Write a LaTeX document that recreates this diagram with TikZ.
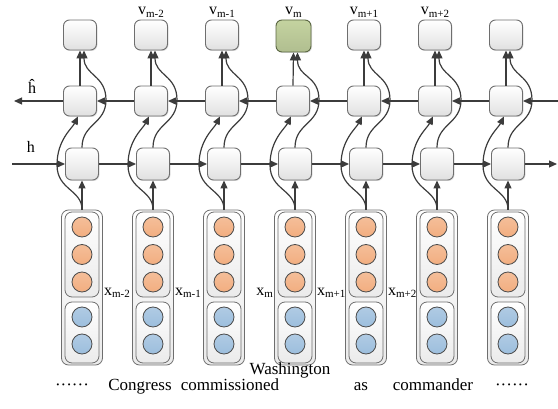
\documentclass[tikz,border=0pt]{standalone}
\usepackage{fontspec}
\setmainfont{Liberation Serif}
\usetikzlibrary{positioning,arrows.meta,shadows,calc}

\definecolor{boxline}{HTML}{6E6E6E}
\definecolor{arrowcol}{HTML}{3C3C3C}
\definecolor{greenfill}{HTML}{C4D3A0}
\definecolor{greenline}{HTML}{5A6642}
\definecolor{orangefill}{HTML}{F2AE80}
\definecolor{bluefill}{HTML}{9CBEDD}
\newcommand\sbs[1]{\raisebox{-0.35ex}{\fontsize{11}{11}\selectfont #1}}

\begin{document}
\begin{tikzpicture}[
  x=1pt, y=-1pt,
  font=\fontsize{16}{18}\selectfont,
  cell/.style={draw=boxline, line width=0.9pt, rounded corners=6pt, top color=white, bottom color=black!12,
    minimum width=33pt, minimum height=30pt, inner sep=0pt,
    drop shadow={shadow xshift=1pt, shadow yshift=-1pt, opacity=0.25}},
  target/.style={cell, top color=greenfill, bottom color=greenfill!90!black, draw=greenline, minimum width=35pt, minimum height=32pt},
  frame/.style={draw=boxline, line width=0.8pt, rounded corners=7pt, top color=white, bottom color=black!8, inner sep=0pt},
  unit/.style={circle, draw=black!70, line width=0.8pt, minimum size=20pt, inner sep=0pt},
  ctx/.style={unit, top color=orangefill!80, bottom color=orangefill},
  emb/.style={unit, top color=bluefill!80, bottom color=bluefill},
  arr/.style={-{Triangle[length=8pt,width=7pt]}, line width=1.2pt, draw=arrowcol},
  word/.style={font=\fontsize{17}{19}\selectfont, anchor=base, inner sep=1pt},
]
\useasboundingbox (0,0) rectangle (558,409);

% columns
\foreach \i in {0,...,6} {
  \pgfmathsetmacro{\xo}{80+71*\i}
  \pgfmathsetmacro{\xi}{82+71*\i}
  \ifnum\i=3
    \node[target] (out\i) at (\xo+0.5,36) {};
  \else
    \node[cell] (out\i) at (\xo,35) {};
  \fi
  \node[cell] (bwd\i) at (\xo,101) {};
  \node[cell, minimum height=32pt] (fwd\i) at (\xi,164) {};
  % input column
  \node[frame, minimum width=41pt, minimum height=155pt] (inp\i) at (\xi,287.5) {};
  \node[frame, minimum width=34pt, minimum height=85pt] (ctxbox\i) at (\xi,254.5) {};
  \node[frame, minimum width=34pt, minimum height=61pt] (embbox\i) at (\xi,332.5) {};
  \node[ctx] (c\i a) at (\xi,227) {};
  \node[ctx] (c\i b) at (\xi,254.5) {};
  \node[ctx] (c\i c) at (\xi,282) {};
  \node[emb] (e\i a) at (\xi,317) {};
  \node[emb] (e\i b) at (\xi,344) {};
  % connectors
  \draw[arr] (inp\i.north) -- (fwd\i.south);
  \draw[arr] (inp\i.north) .. controls +(0,-20) and +(0,25) .. (\xi-25,165)
             .. controls +(0,-25) and +(-6,12) .. ([xshift=-2pt]bwd\i.south);
  \draw[arr] (fwd\i.north) .. controls +(0,-24) and +(0,24) .. (\xo+26,100)
             .. controls +(0,-25) and +(0,25) .. ([xshift=4pt]out\i.south);
  \draw[arr] (bwd\i.north) -- (out\i.south);
}

% recurrent chains
\coordinate (hin) at (12,164);
\coordinate (hout) at (557,164);
\coordinate (bin) at (558,101);
\coordinate (bout) at (14,101);
\draw[arr] (hin) -- (fwd0.west);
\foreach \i [evaluate=\i as \j using int(\i+1)] in {0,...,5} {
  \draw[arr] (fwd\i.east) -- (fwd\j.west);
  \draw[arr] (bwd\j.west) -- (bwd\i.east);
}
\draw[arr] (fwd6.east) -- (hout);
\draw[arr] (bin) -- (bwd6.east);
\draw[arr] (bwd0.west) -- (bout);

% labels
\node (hlab) at (31,147) {h};
\node (hhat) at (32,86) {\^h};
\foreach \i/\s in {1/m-2, 2/m-1, 3/m, 4/m+1, 5/m+2}
  \node[above=-1pt of out\i] (v\i) {v\sbs{\s}};
\node[anchor=west, inner sep=1pt] (x0) at (inp0.east |- 0,293) {x\sbs{m-2}};
\node[anchor=west, inner sep=1pt] (x1) at (inp1.east |- 0,293) {x\sbs{m-1}};
\node[anchor=east, inner sep=1pt] (x3) at (inp3.west |- 0,293) {x\sbs{m}};
\node[anchor=west, inner sep=1pt] (x4) at (inp3.east |- 0,293) {x\sbs{m+1}};
\node[anchor=west, inner sep=1pt] (x5) at (inp4.east |- 0,293) {x\sbs{m+2}};

% sentence
\node[word] (dl) at (72,391) {······};
\node[word] (w1) at (140,391) {Congress};
\node[word] (w2) at (230,391) {commissioned};
\node[word] (w3) at (290,375) {Washington};
\node[word] (w4) at (361,391) {as};
\node[word] (w5) at (433,391) {commander};
\node[word] (dr) at (512,391) {······};
\end{tikzpicture}
\end{document}
